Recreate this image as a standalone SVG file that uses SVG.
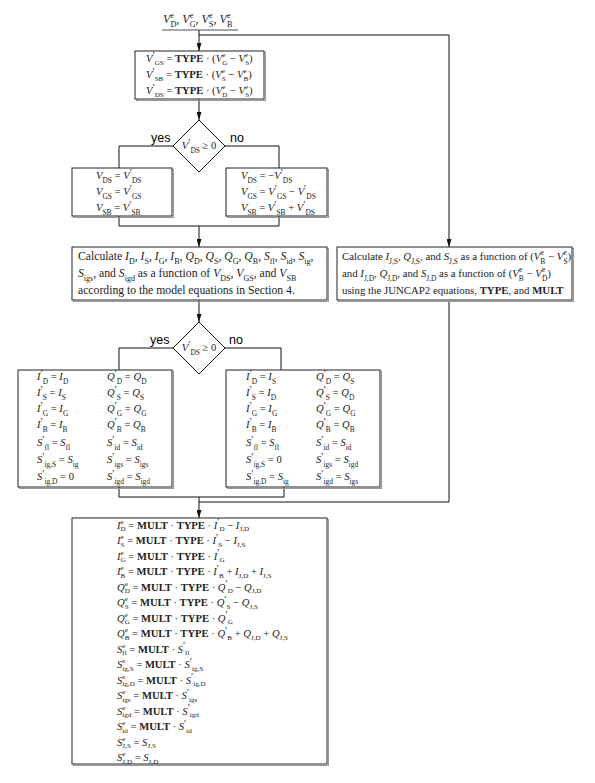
<svg xmlns="http://www.w3.org/2000/svg" width="595" height="783" viewBox="0 0 595 783">
<defs>
<style>
text{font-family:"Liberation Serif","Times New Roman",serif;font-size:10.6px;fill:#222}
.i{font-style:italic}
.b{font-weight:bold}
.s{font-size:7.4px}
.p{font-size:10px}
.t{font-size:10.8px}
.t2{font-size:11.7px}
.t2 .s{font-size:8px}
.top{font-size:12px}
.top .s{font-size:8.2px}
.o .s{font-size:7.1px}
.lbl{font-family:"Liberation Sans",Arial,sans-serif;font-size:12.5px;fill:#000}
.box{fill:#fff;stroke:#222;stroke-width:1}
.sh{fill:none;stroke:#999;stroke-width:1}
.dia{fill:#fff;stroke:#111;stroke-width:1}
.c{fill:none;stroke:#111;stroke-width:1}
</style>
<marker id="ah" viewBox="0 0 8 5" refX="8" refY="2.5" markerWidth="8" markerHeight="5" markerUnits="userSpaceOnUse" orient="auto"><path d="M0,0 L8,2.5 L0,5 z" fill="#111"/></marker>
</defs>
<rect width="595" height="783" fill="#fff"/>

<g id="connectors">
<path class="c" d="M199,30 V51" marker-end="url(#ah)"/>
<path class="c" d="M199,35 H449 V247" marker-end="url(#ah)"/>
<path class="c" d="M199,99 V120" marker-end="url(#ah)"/>
<path class="c" d="M173,146 H119 V168"/>
<path class="c" d="M225,146 H279 V168"/>
<path class="c" d="M119,216 V226 H279 V216"/>
<path class="c" d="M199,226 V247" marker-end="url(#ah)"/>
<path class="c" d="M199,300 V322" marker-end="url(#ah)"/>
<path class="c" d="M173,348 H119 V370"/>
<path class="c" d="M225,348 H281 V370"/>
<path class="c" d="M119,487 V497 H284 V487"/>
<path class="c" d="M449,301 V502 H199"/>
<path class="c" d="M199,497 V518" marker-end="url(#ah)"/>
</g>

<g id="inputs">
<text class="top" x="163" y="23"><tspan class="i">V</tspan><tspan class="s" dy="-5.5">e</tspan><tspan class="s" dx="-3.6" dy="9">D</tspan><tspan dy="-3.5">, </tspan><tspan class="i">V</tspan><tspan class="s" dy="-5.5">e</tspan><tspan class="s" dx="-3.6" dy="9">G</tspan><tspan dy="-3.5">, </tspan><tspan class="i">V</tspan><tspan class="s" dy="-5.5">e</tspan><tspan class="s" dx="-3.6" dy="9">S</tspan><tspan dy="-3.5">, </tspan><tspan class="i">V</tspan><tspan class="s" dy="-5.5">e</tspan><tspan class="s" dx="-3.6" dy="9">B</tspan></text>
<line x1="162" y1="30" x2="238" y2="30" stroke="#222" stroke-width="0.8"/>
</g>

<g id="type-box">
<rect class="sh" x="136.5" y="52.5" width="129" height="48"/>
<rect class="box" x="135" y="51" width="129" height="48"/>
<text class="o" x="146" y="62"><tspan class="i">V</tspan><tspan class="p" dy="-3.5">′</tspan><tspan class="s" dy="6.3">GS</tspan><tspan dy="-2.8"> = </tspan><tspan class="b">TYPE</tspan> · (<tspan class="i">V</tspan><tspan class="s" dy="-4.9">e</tspan><tspan class="s" dx="-3.1" dy="7.7">G</tspan><tspan dy="-2.8"> − </tspan><tspan class="i">V</tspan><tspan class="s" dy="-4.9">e</tspan><tspan class="s" dx="-3.1" dy="7.7">S</tspan><tspan dy="-2.8">)</tspan></text>
<text class="o" x="146" y="78"><tspan class="i">V</tspan><tspan class="p" dy="-3.5">′</tspan><tspan class="s" dy="6.3">SB</tspan><tspan dy="-2.8"> = </tspan><tspan class="b">TYPE</tspan> · (<tspan class="i">V</tspan><tspan class="s" dy="-4.9">e</tspan><tspan class="s" dx="-3.1" dy="7.7">S</tspan><tspan dy="-2.8"> − </tspan><tspan class="i">V</tspan><tspan class="s" dy="-4.9">e</tspan><tspan class="s" dx="-3.1" dy="7.7">B</tspan><tspan dy="-2.8">)</tspan></text>
<text class="o" x="146" y="94"><tspan class="i">V</tspan><tspan class="p" dy="-3.5">′</tspan><tspan class="s" dy="6.3">DS</tspan><tspan dy="-2.8"> = </tspan><tspan class="b">TYPE</tspan> · (<tspan class="i">V</tspan><tspan class="s" dy="-4.9">e</tspan><tspan class="s" dx="-3.1" dy="7.7">D</tspan><tspan dy="-2.8"> − </tspan><tspan class="i">V</tspan><tspan class="s" dy="-4.9">e</tspan><tspan class="s" dx="-3.1" dy="7.7">S</tspan><tspan dy="-2.8">)</tspan></text>
</g>

<g id="decision1">
<polygon class="dia" points="199,120 225,146 199,172 173,146"/>
<text x="199" y="149" text-anchor="middle"><tspan class="i">V</tspan><tspan class="p" dy="-3.5">′</tspan><tspan class="s" dy="7">DS</tspan><tspan dy="-3.5"> ≥ 0</tspan></text>
<text class="lbl" x="151" y="142">yes</text>
<text class="lbl" x="230" y="142">no</text>
</g>

<g id="yes-box1">
<rect class="sh" x="73.5" y="169.5" width="100" height="48"/>
<rect class="box" x="72" y="168" width="100" height="48"/>
<text x="96" y="179"><tspan class="i">V</tspan><tspan class="s" dy="3.5">DS</tspan><tspan dy="-3.5"> = </tspan><tspan class="i">V</tspan><tspan class="p" dy="-3.5">′</tspan><tspan class="s" dy="7">DS</tspan></text>
<text x="96" y="195"><tspan class="i">V</tspan><tspan class="s" dy="3.5">GS</tspan><tspan dy="-3.5"> = </tspan><tspan class="i">V</tspan><tspan class="p" dy="-3.5">′</tspan><tspan class="s" dy="7">GS</tspan></text>
<text x="96" y="211"><tspan class="i">V</tspan><tspan class="s" dy="3.5">SB</tspan><tspan dy="-3.5"> = </tspan><tspan class="i">V</tspan><tspan class="p" dy="-3.5">′</tspan><tspan class="s" dy="7">SB</tspan></text>
</g>

<g id="no-box1">
<rect class="sh" x="227.5" y="169.5" width="101" height="48"/>
<rect class="box" x="226" y="168" width="101" height="48"/>
<text x="241" y="179"><tspan class="i">V</tspan><tspan class="s" dy="3.5">DS</tspan><tspan dy="-3.5"> = −</tspan><tspan class="i">V</tspan><tspan class="p" dy="-3.5">′</tspan><tspan class="s" dy="7">DS</tspan></text>
<text x="241" y="195"><tspan class="i">V</tspan><tspan class="s" dy="3.5">GS</tspan><tspan dy="-3.5"> = </tspan><tspan class="i">V</tspan><tspan class="p" dy="-3.5">′</tspan><tspan class="s" dy="7">GS</tspan><tspan dy="-3.5"> − </tspan><tspan class="i">V</tspan><tspan class="p" dy="-3.5">′</tspan><tspan class="s" dy="7">DS</tspan></text>
<text x="241" y="211"><tspan class="i">V</tspan><tspan class="s" dy="3.5">SB</tspan><tspan dy="-3.5"> = </tspan><tspan class="i">V</tspan><tspan class="p" dy="-3.5">′</tspan><tspan class="s" dy="7">SB</tspan><tspan dy="-3.5"> + </tspan><tspan class="i">V</tspan><tspan class="p" dy="-3.5">′</tspan><tspan class="s" dy="7">DS</tspan></text>
</g>

<g id="calc-box">
<rect class="sh" x="73.5" y="248.5" width="255" height="53"/>
<rect class="box" x="72" y="247" width="255" height="53"/>
<text class="t2" x="78" y="260">Calculate <tspan class="i">I</tspan><tspan class="s" dy="3.5">D</tspan><tspan dy="-3.5">, </tspan><tspan class="i">I</tspan><tspan class="s" dy="3.5">S</tspan><tspan dy="-3.5">, </tspan><tspan class="i">I</tspan><tspan class="s" dy="3.5">G</tspan><tspan dy="-3.5">, </tspan><tspan class="i">I</tspan><tspan class="s" dy="3.5">B</tspan><tspan dy="-3.5">, </tspan><tspan class="i">Q</tspan><tspan class="s" dy="3.5">D</tspan><tspan dy="-3.5">, </tspan><tspan class="i">Q</tspan><tspan class="s" dy="3.5">S</tspan><tspan dy="-3.5">, </tspan><tspan class="i">Q</tspan><tspan class="s" dy="3.5">G</tspan><tspan dy="-3.5">, </tspan><tspan class="i">Q</tspan><tspan class="s" dy="3.5">B</tspan><tspan dy="-3.5">, </tspan><tspan class="i">S</tspan><tspan class="s" dy="3.5">fl</tspan><tspan dy="-3.5">, </tspan><tspan class="i">S</tspan><tspan class="s" dy="3.5">id</tspan><tspan dy="-3.5">, </tspan><tspan class="i">S</tspan><tspan class="s" dy="3.5">ig</tspan><tspan dy="-3.5">,</tspan></text>
<text class="t2" x="78" y="277"><tspan class="i">S</tspan><tspan class="s" dy="3.5">igs</tspan><tspan dy="-3.5">, and </tspan><tspan class="i">S</tspan><tspan class="s" dy="3.5">igd</tspan><tspan dy="-3.5"> as a function of </tspan><tspan class="i">V</tspan><tspan class="s" dy="3.5">DS</tspan><tspan dy="-3.5">, </tspan><tspan class="i">V</tspan><tspan class="s" dy="3.5">GS</tspan><tspan dy="-3.5">, and </tspan><tspan class="i">V</tspan><tspan class="s" dy="3.5">SB</tspan></text>
<text class="t2" x="78" y="294">according to the model equations in Section 4.</text>
</g>

<g id="juncap-box">
<rect class="sh" x="338.5" y="248.5" width="235" height="53"/>
<rect class="box" x="337" y="247" width="235" height="53"/>
<text class="t" x="342" y="260">Calculate <tspan class="i">I</tspan><tspan class="s" dy="3.5">J,S</tspan><tspan dy="-3.5">, </tspan><tspan class="i">Q</tspan><tspan class="s" dy="3.5">J,S</tspan><tspan dy="-3.5">, and </tspan><tspan class="i">S</tspan><tspan class="s" dy="3.5">J,S</tspan><tspan dy="-3.5"> as a function of (</tspan><tspan class="i">V</tspan><tspan class="s" dy="-5.5">e</tspan><tspan class="s" dx="-3.3" dy="9">B</tspan><tspan dy="-3.5"> − </tspan><tspan class="i">V</tspan><tspan class="s" dy="-5.5">e</tspan><tspan class="s" dx="-3.3" dy="9">S</tspan><tspan dy="-3.5">)</tspan></text>
<text class="t" x="342" y="277">and <tspan class="i">I</tspan><tspan class="s" dy="3.5">J,D</tspan><tspan dy="-3.5">, </tspan><tspan class="i">Q</tspan><tspan class="s" dy="3.5">J,D</tspan><tspan dy="-3.5">, and </tspan><tspan class="i">S</tspan><tspan class="s" dy="3.5">J,D</tspan><tspan dy="-3.5"> as a function of (</tspan><tspan class="i">V</tspan><tspan class="s" dy="-5.5">e</tspan><tspan class="s" dx="-3.3" dy="9">B</tspan><tspan dy="-3.5"> − </tspan><tspan class="i">V</tspan><tspan class="s" dy="-5.5">e</tspan><tspan class="s" dx="-3.3" dy="9">D</tspan><tspan dy="-3.5">)</tspan></text>
<text class="t" x="342" y="294">using the JUNCAP2 equations, <tspan class="b">TYPE</tspan>, and <tspan class="b">MULT</tspan></text>
</g>

<g id="decision2">
<polygon class="dia" points="199,322 225,348 199,374 173,348"/>
<text x="199" y="351" text-anchor="middle"><tspan class="i">V</tspan><tspan class="p" dy="-3.5">′</tspan><tspan class="s" dy="7">DS</tspan><tspan dy="-3.5"> ≥ 0</tspan></text>
<text class="lbl" x="150" y="344">yes</text>
<text class="lbl" x="229" y="344">no</text>
</g>

<g id="yes-box2">
<rect class="sh" x="19.5" y="371.5" width="154" height="117"/>
<rect class="box" x="18" y="370" width="154" height="117"/>
<text x="37" y="380"><tspan class="i">I</tspan><tspan class="p" dy="-3.5">′</tspan><tspan class="s" dy="7">D</tspan><tspan dy="-3.5"> = </tspan><tspan class="i">I</tspan><tspan class="s" dy="3.5">D</tspan></text>
<text x="37" y="396"><tspan class="i">I</tspan><tspan class="p" dy="-3.5">′</tspan><tspan class="s" dy="7">S</tspan><tspan dy="-3.5"> = </tspan><tspan class="i">I</tspan><tspan class="s" dy="3.5">S</tspan></text>
<text x="37" y="412"><tspan class="i">I</tspan><tspan class="p" dy="-3.5">′</tspan><tspan class="s" dy="7">G</tspan><tspan dy="-3.5"> = </tspan><tspan class="i">I</tspan><tspan class="s" dy="3.5">G</tspan></text>
<text x="37" y="428"><tspan class="i">I</tspan><tspan class="p" dy="-3.5">′</tspan><tspan class="s" dy="7">B</tspan><tspan dy="-3.5"> = </tspan><tspan class="i">I</tspan><tspan class="s" dy="3.5">B</tspan></text>
<text x="37" y="446"><tspan class="i">S</tspan><tspan class="p" dy="-3.5">′</tspan><tspan class="s" dy="7">fl</tspan><tspan dy="-3.5"> = </tspan><tspan class="i">S</tspan><tspan class="s" dy="3.5">fl</tspan></text>
<text x="37" y="463"><tspan class="i">S</tspan><tspan class="p" dy="-3.5">′</tspan><tspan class="s" dy="7">ig,S</tspan><tspan dy="-3.5"> = </tspan><tspan class="i">S</tspan><tspan class="s" dy="3.5">ig</tspan></text>
<text x="37" y="480"><tspan class="i">S</tspan><tspan class="p" dy="-3.5">′</tspan><tspan class="s" dy="7">ig,D</tspan><tspan dy="-3.5"> = 0</tspan></text>
<text x="107" y="380"><tspan class="i">Q</tspan><tspan class="p" dy="-3.5">′</tspan><tspan class="s" dy="7">D</tspan><tspan dy="-3.5"> = </tspan><tspan class="i">Q</tspan><tspan class="s" dy="3.5">D</tspan></text>
<text x="107" y="396"><tspan class="i">Q</tspan><tspan class="p" dy="-3.5">′</tspan><tspan class="s" dy="7">S</tspan><tspan dy="-3.5"> = </tspan><tspan class="i">Q</tspan><tspan class="s" dy="3.5">S</tspan></text>
<text x="107" y="412"><tspan class="i">Q</tspan><tspan class="p" dy="-3.5">′</tspan><tspan class="s" dy="7">G</tspan><tspan dy="-3.5"> = </tspan><tspan class="i">Q</tspan><tspan class="s" dy="3.5">G</tspan></text>
<text x="107" y="428"><tspan class="i">Q</tspan><tspan class="p" dy="-3.5">′</tspan><tspan class="s" dy="7">B</tspan><tspan dy="-3.5"> = </tspan><tspan class="i">Q</tspan><tspan class="s" dy="3.5">B</tspan></text>
<text x="107" y="446"><tspan class="i">S</tspan><tspan class="p" dy="-3.5">′</tspan><tspan class="s" dy="7">id</tspan><tspan dy="-3.5"> = </tspan><tspan class="i">S</tspan><tspan class="s" dy="3.5">id</tspan></text>
<text x="107" y="463"><tspan class="i">S</tspan><tspan class="p" dy="-3.5">′</tspan><tspan class="s" dy="7">igs</tspan><tspan dy="-3.5"> = </tspan><tspan class="i">S</tspan><tspan class="s" dy="3.5">igs</tspan></text>
<text x="107" y="480"><tspan class="i">S</tspan><tspan class="p" dy="-3.5">′</tspan><tspan class="s" dy="7">igd</tspan><tspan dy="-3.5"> = </tspan><tspan class="i">S</tspan><tspan class="s" dy="3.5">igd</tspan></text>
</g>

<g id="no-box2">
<rect class="sh" x="227.5" y="371.5" width="154" height="117"/>
<rect class="box" x="226" y="370" width="154" height="117"/>
<text x="246" y="380"><tspan class="i">I</tspan><tspan class="p" dy="-3.5">′</tspan><tspan class="s" dy="7">D</tspan><tspan dy="-3.5"> = </tspan><tspan class="i">I</tspan><tspan class="s" dy="3.5">S</tspan></text>
<text x="246" y="396"><tspan class="i">I</tspan><tspan class="p" dy="-3.5">′</tspan><tspan class="s" dy="7">S</tspan><tspan dy="-3.5"> = </tspan><tspan class="i">I</tspan><tspan class="s" dy="3.5">D</tspan></text>
<text x="246" y="412"><tspan class="i">I</tspan><tspan class="p" dy="-3.5">′</tspan><tspan class="s" dy="7">G</tspan><tspan dy="-3.5"> = </tspan><tspan class="i">I</tspan><tspan class="s" dy="3.5">G</tspan></text>
<text x="246" y="428"><tspan class="i">I</tspan><tspan class="p" dy="-3.5">′</tspan><tspan class="s" dy="7">B</tspan><tspan dy="-3.5"> = </tspan><tspan class="i">I</tspan><tspan class="s" dy="3.5">B</tspan></text>
<text x="246" y="446"><tspan class="i">S</tspan><tspan class="p" dy="-3.5">′</tspan><tspan class="s" dy="7">fl</tspan><tspan dy="-3.5"> = </tspan><tspan class="i">S</tspan><tspan class="s" dy="3.5">fl</tspan></text>
<text x="246" y="463"><tspan class="i">S</tspan><tspan class="p" dy="-3.5">′</tspan><tspan class="s" dy="7">ig,S</tspan><tspan dy="-3.5"> = 0</tspan></text>
<text x="246" y="480"><tspan class="i">S</tspan><tspan class="p" dy="-3.5">′</tspan><tspan class="s" dy="7">ig,D</tspan><tspan dy="-3.5"> = </tspan><tspan class="i">S</tspan><tspan class="s" dy="3.5">ig</tspan></text>
<text x="316" y="380"><tspan class="i">Q</tspan><tspan class="p" dy="-3.5">′</tspan><tspan class="s" dy="7">D</tspan><tspan dy="-3.5"> = </tspan><tspan class="i">Q</tspan><tspan class="s" dy="3.5">S</tspan></text>
<text x="316" y="396"><tspan class="i">Q</tspan><tspan class="p" dy="-3.5">′</tspan><tspan class="s" dy="7">S</tspan><tspan dy="-3.5"> = </tspan><tspan class="i">Q</tspan><tspan class="s" dy="3.5">D</tspan></text>
<text x="316" y="412"><tspan class="i">Q</tspan><tspan class="p" dy="-3.5">′</tspan><tspan class="s" dy="7">G</tspan><tspan dy="-3.5"> = </tspan><tspan class="i">Q</tspan><tspan class="s" dy="3.5">G</tspan></text>
<text x="316" y="428"><tspan class="i">Q</tspan><tspan class="p" dy="-3.5">′</tspan><tspan class="s" dy="7">B</tspan><tspan dy="-3.5"> = </tspan><tspan class="i">Q</tspan><tspan class="s" dy="3.5">B</tspan></text>
<text x="316" y="446"><tspan class="i">S</tspan><tspan class="p" dy="-3.5">′</tspan><tspan class="s" dy="7">id</tspan><tspan dy="-3.5"> = </tspan><tspan class="i">S</tspan><tspan class="s" dy="3.5">id</tspan></text>
<text x="316" y="463"><tspan class="i">S</tspan><tspan class="p" dy="-3.5">′</tspan><tspan class="s" dy="7">igs</tspan><tspan dy="-3.5"> = </tspan><tspan class="i">S</tspan><tspan class="s" dy="3.5">igd</tspan></text>
<text x="316" y="480"><tspan class="i">S</tspan><tspan class="p" dy="-3.5">′</tspan><tspan class="s" dy="7">igd</tspan><tspan dy="-3.5"> = </tspan><tspan class="i">S</tspan><tspan class="s" dy="3.5">igs</tspan></text>
</g>

<g id="output-box">
<rect class="sh" x="73.5" y="519.5" width="255" height="246"/>
<rect class="box" x="72" y="518" width="255" height="246"/>
<text class="o" x="117" y="528.5"><tspan class="i">I</tspan><tspan class="s" dy="-4.9">e</tspan><tspan class="s" dx="-3.1" dy="7.7">D</tspan><tspan dy="-2.8"> = </tspan><tspan class="b">MULT</tspan> · <tspan class="b">TYPE</tspan> · <tspan class="i">I</tspan><tspan class="p" dy="-3.5">′</tspan><tspan class="s" dy="6.3">D</tspan><tspan dy="-2.8"> − </tspan><tspan class="i">I</tspan><tspan class="s" dy="2.8">J,D</tspan></text>
<text class="o" x="117" y="544"><tspan class="i">I</tspan><tspan class="s" dy="-4.9">e</tspan><tspan class="s" dx="-3.1" dy="7.7">S</tspan><tspan dy="-2.8"> = </tspan><tspan class="b">MULT</tspan> · <tspan class="b">TYPE</tspan> · <tspan class="i">I</tspan><tspan class="p" dy="-3.5">′</tspan><tspan class="s" dy="6.3">S</tspan><tspan dy="-2.8"> − </tspan><tspan class="i">I</tspan><tspan class="s" dy="2.8">J,S</tspan></text>
<text class="o" x="117" y="559.5"><tspan class="i">I</tspan><tspan class="s" dy="-4.9">e</tspan><tspan class="s" dx="-3.1" dy="7.7">G</tspan><tspan dy="-2.8"> = </tspan><tspan class="b">MULT</tspan> · <tspan class="b">TYPE</tspan> · <tspan class="i">I</tspan><tspan class="p" dy="-3.5">′</tspan><tspan class="s" dy="6.3">G</tspan></text>
<text class="o" x="117" y="575"><tspan class="i">I</tspan><tspan class="s" dy="-4.9">e</tspan><tspan class="s" dx="-3.1" dy="7.7">B</tspan><tspan dy="-2.8"> = </tspan><tspan class="b">MULT</tspan> · <tspan class="b">TYPE</tspan> · <tspan class="i">I</tspan><tspan class="p" dy="-3.5">′</tspan><tspan class="s" dy="6.3">B</tspan><tspan dy="-2.8"> + </tspan><tspan class="i">I</tspan><tspan class="s" dy="2.8">J,D</tspan><tspan dy="-2.8"> + </tspan><tspan class="i">I</tspan><tspan class="s" dy="2.8">J,S</tspan></text>
<text class="o" x="117" y="590.5"><tspan class="i">Q</tspan><tspan class="s" dy="-4.9">e</tspan><tspan class="s" dx="-3.1" dy="7.7">D</tspan><tspan dy="-2.8"> = </tspan><tspan class="b">MULT</tspan> · <tspan class="b">TYPE</tspan> · <tspan class="i">Q</tspan><tspan class="p" dy="-3.5">′</tspan><tspan class="s" dy="6.3">D</tspan><tspan dy="-2.8"> − </tspan><tspan class="i">Q</tspan><tspan class="s" dy="2.8">J,D</tspan></text>
<text class="o" x="117" y="606"><tspan class="i">Q</tspan><tspan class="s" dy="-4.9">e</tspan><tspan class="s" dx="-3.1" dy="7.7">S</tspan><tspan dy="-2.8"> = </tspan><tspan class="b">MULT</tspan> · <tspan class="b">TYPE</tspan> · <tspan class="i">Q</tspan><tspan class="p" dy="-3.5">′</tspan><tspan class="s" dy="6.3">S</tspan><tspan dy="-2.8"> − </tspan><tspan class="i">Q</tspan><tspan class="s" dy="2.8">J,S</tspan></text>
<text class="o" x="117" y="621.5"><tspan class="i">Q</tspan><tspan class="s" dy="-4.9">e</tspan><tspan class="s" dx="-3.1" dy="7.7">G</tspan><tspan dy="-2.8"> = </tspan><tspan class="b">MULT</tspan> · <tspan class="b">TYPE</tspan> · <tspan class="i">Q</tspan><tspan class="p" dy="-3.5">′</tspan><tspan class="s" dy="6.3">G</tspan></text>
<text class="o" x="117" y="637"><tspan class="i">Q</tspan><tspan class="s" dy="-4.9">e</tspan><tspan class="s" dx="-3.1" dy="7.7">B</tspan><tspan dy="-2.8"> = </tspan><tspan class="b">MULT</tspan> · <tspan class="b">TYPE</tspan> · <tspan class="i">Q</tspan><tspan class="p" dy="-3.5">′</tspan><tspan class="s" dy="6.3">B</tspan><tspan dy="-2.8"> + </tspan><tspan class="i">Q</tspan><tspan class="s" dy="2.8">J,D</tspan><tspan dy="-2.8"> + </tspan><tspan class="i">Q</tspan><tspan class="s" dy="2.8">J,S</tspan></text>
<text class="o" x="117" y="652.5"><tspan class="i">S</tspan><tspan class="s" dy="-4.9">e</tspan><tspan class="s" dx="-3.1" dy="7.7">fl</tspan><tspan dy="-2.8"> = </tspan><tspan class="b">MULT</tspan> · <tspan class="i">S</tspan><tspan class="p" dy="-3.5">′</tspan><tspan class="s" dy="6.3">fl</tspan></text>
<text class="o" x="117" y="668"><tspan class="i">S</tspan><tspan class="s" dy="-4.9">e</tspan><tspan class="s" dx="-3.1" dy="7.7">ig,S</tspan><tspan dy="-2.8"> = </tspan><tspan class="b">MULT</tspan> · <tspan class="i">S</tspan><tspan class="p" dy="-3.5">′</tspan><tspan class="s" dy="6.3">ig,S</tspan></text>
<text class="o" x="117" y="683.5"><tspan class="i">S</tspan><tspan class="s" dy="-4.9">e</tspan><tspan class="s" dx="-3.1" dy="7.7">ig,D</tspan><tspan dy="-2.8"> = </tspan><tspan class="b">MULT</tspan> · <tspan class="i">S</tspan><tspan class="p" dy="-3.5">′</tspan><tspan class="s" dy="6.3">ig,D</tspan></text>
<text class="o" x="117" y="699"><tspan class="i">S</tspan><tspan class="s" dy="-4.9">e</tspan><tspan class="s" dx="-3.1" dy="7.7">igs</tspan><tspan dy="-2.8"> = </tspan><tspan class="b">MULT</tspan> · <tspan class="i">S</tspan><tspan class="p" dy="-3.5">′</tspan><tspan class="s" dy="6.3">igs</tspan></text>
<text class="o" x="117" y="714.5"><tspan class="i">S</tspan><tspan class="s" dy="-4.9">e</tspan><tspan class="s" dx="-3.1" dy="7.7">igd</tspan><tspan dy="-2.8"> = </tspan><tspan class="b">MULT</tspan> · <tspan class="i">S</tspan><tspan class="p" dy="-3.5">′</tspan><tspan class="s" dy="6.3">igd</tspan></text>
<text class="o" x="117" y="730"><tspan class="i">S</tspan><tspan class="s" dy="-4.9">e</tspan><tspan class="s" dx="-3.1" dy="7.7">id</tspan><tspan dy="-2.8"> = </tspan><tspan class="b">MULT</tspan> · <tspan class="i">S</tspan><tspan class="p" dy="-3.5">′</tspan><tspan class="s" dy="6.3">id</tspan></text>
<text class="o" x="117" y="745.5"><tspan class="i">S</tspan><tspan class="s" dy="-4.9">e</tspan><tspan class="s" dx="-3.1" dy="7.7">J,S</tspan><tspan dy="-2.8"> = </tspan><tspan class="i">S</tspan><tspan class="s" dy="2.8">J,S</tspan></text>
<text class="o" x="117" y="761"><tspan class="i">S</tspan><tspan class="s" dy="-4.9">e</tspan><tspan class="s" dx="-3.1" dy="7.7">J,D</tspan><tspan dy="-2.8"> = </tspan><tspan class="i">S</tspan><tspan class="s" dy="2.8">J,D</tspan></text>
</g>
</svg>
